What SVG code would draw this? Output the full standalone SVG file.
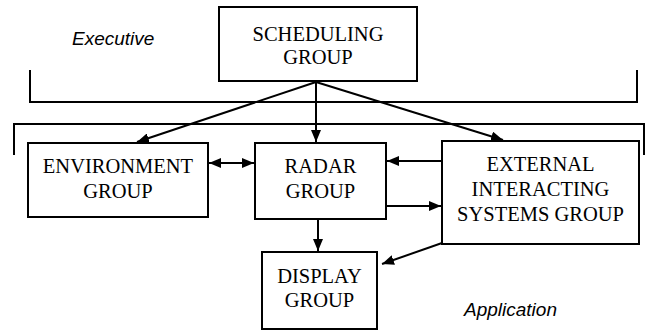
<svg xmlns="http://www.w3.org/2000/svg" width="647" height="330" viewBox="0 0 647 330">
<style>
.box{fill:#fff;stroke:#000;stroke-width:2}
.t{font-family:"Liberation Serif","Times New Roman",serif;font-size:20.5px;fill:#000;text-anchor:middle}
.lab{font-family:"Liberation Sans",Arial,sans-serif;font-style:italic;font-size:19px;fill:#000}
.br{fill:none;stroke:#000;stroke-width:2}
.c{fill:none;stroke:#000;stroke-width:2}
</style>
<defs>
<marker id="ah" markerUnits="userSpaceOnUse" markerWidth="12" markerHeight="10" refX="12" refY="5" orient="auto-start-reverse">
<path d="M0,0 L12,5 L0,10 z" fill="#000"/>
</marker>
</defs>
<rect width="647" height="330" fill="#fff"/>
<g id="brackets">
<path class="br" d="M30,70 V102 H637 V70"/>
<path class="br" d="M14,155 V124 H644 V155"/>
<text class="lab" x="72" y="45">Executive</text>
<text class="lab" x="464" y="316">Application</text>
</g>
<g id="scheduling">
<rect class="box" x="219" y="7" width="198" height="74"/>
<text class="t" x="318" y="41">SCHEDULING</text>
<text class="t" x="318" y="64">GROUP</text>
</g>
<g id="environment">
<rect class="box" x="28" y="143" width="180" height="74"/>
<text class="t" x="118" y="173">ENVIRONMENT</text>
<text class="t" x="118" y="198">GROUP</text>
</g>
<g id="radar">
<rect class="box" x="255" y="143" width="131" height="76"/>
<text class="t" x="320.5" y="173">RADAR</text>
<text class="t" x="320.5" y="198">GROUP</text>
</g>
<g id="external">
<rect class="box" x="442" y="141" width="197" height="103"/>
<text class="t" x="540.5" y="171">EXTERNAL</text>
<text class="t" x="540.5" y="196">INTERACTING</text>
<text class="t" x="540.5" y="221">SYSTEMS GROUP</text>
</g>
<g id="display">
<rect class="box" x="262" y="252" width="115" height="77"/>
<text class="t" x="319.5" y="283">DISPLAY</text>
<text class="t" x="319.5" y="307">GROUP</text>
</g>
<g id="connectors">
<line class="c" x1="316" y1="82" x2="137" y2="142" marker-end="url(#ah)"/>
<line class="c" x1="316" y1="82" x2="316" y2="142" marker-end="url(#ah)"/>
<line class="c" x1="316" y1="82" x2="503" y2="140" marker-end="url(#ah)"/>
<line class="c" x1="209" y1="163" x2="254" y2="163" marker-start="url(#ah)" marker-end="url(#ah)"/>
<line class="c" x1="442" y1="161" x2="387" y2="161" marker-end="url(#ah)"/>
<line class="c" x1="386" y1="206" x2="441" y2="206" marker-end="url(#ah)"/>
<line class="c" x1="318" y1="219" x2="318" y2="251" marker-end="url(#ah)"/>
<line class="c" x1="442" y1="243" x2="382" y2="264" marker-end="url(#ah)"/>
</g>
</svg>
